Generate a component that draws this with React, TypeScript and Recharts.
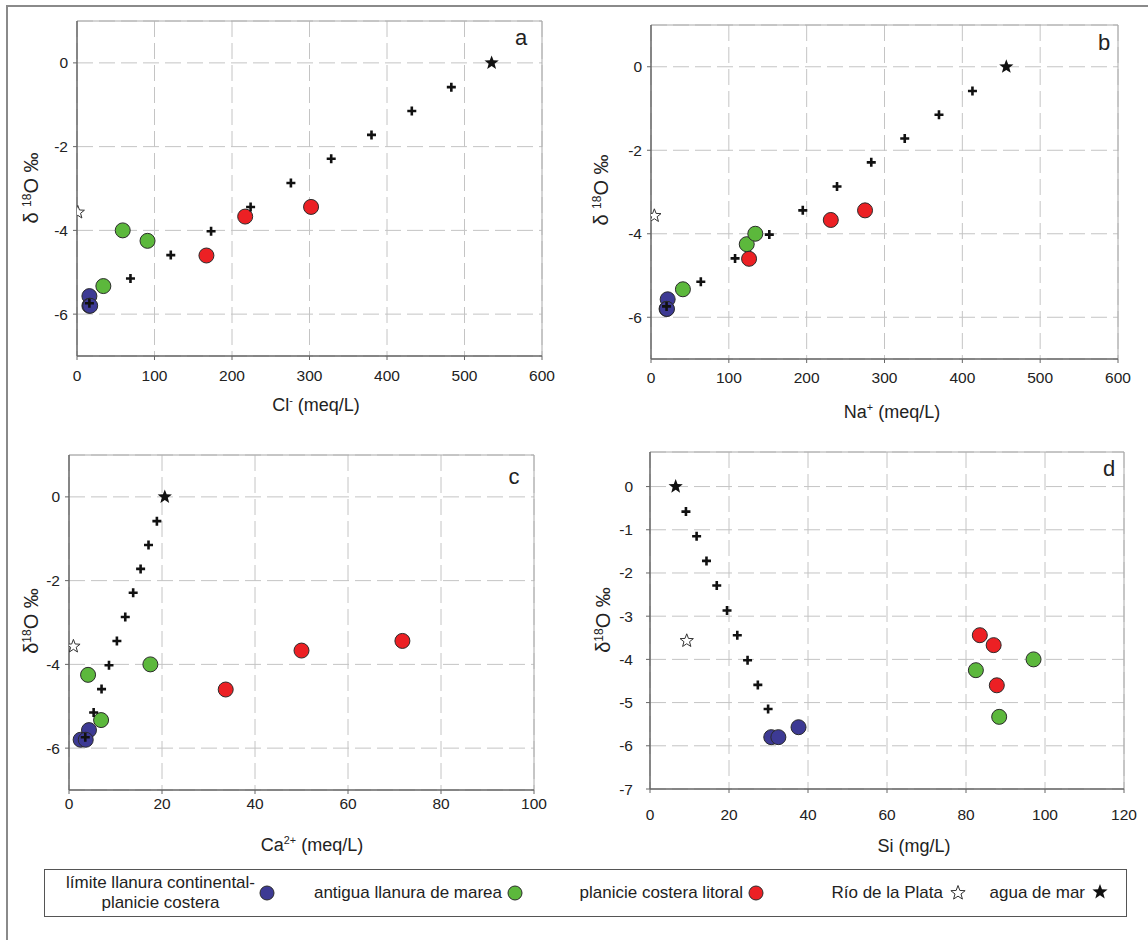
import React from "react";
import {
  ScatterChart,
  Scatter,
  XAxis,
  YAxis,
  CartesianGrid,
  ReferenceLine,
} from "recharts";

// δ18O (‰) and chemistry of each sample group
// límite llanura continental - planicie costera (blue)
const limiteO18 = [-5.57, -5.8, -5.8];
const limiteCl = [16, 16, 17];
const limiteNa = [21.4, 20, 20.5];
const limiteCa = [4.3, 2.5, 3.6];
const limiteSi = [37.6, 30.7, 32.5];

// antigua llanura de marea (green)
const mareaO18 = [-5.33, -4.25, -4.0];
const mareaCl = [34, 91, 59];
const mareaNa = [41, 123, 134];
const mareaCa = [6.9, 4.1, 17.5];
const mareaSi = [88.4, 82.5, 97.1];

// planicie costera litoral (red)
const litoralO18 = [-4.6, -3.67, -3.44];
const litoralCl = [167, 217, 302];
const litoralNa = [126, 231, 275];
const litoralCa = [33.7, 50, 71.7];
const litoralSi = [87.8, 87, 83.5];

// mixing line (crosses); first Si point is hidden under the blue dots
const mezclaO18 = [-5.74, -5.15, -4.59, -4.02, -3.44, -2.87, -2.29, -1.72, -1.15, -0.58];
const mezclaCl = [16, 69, 121, 173, 224, 276, 328, 380, 432, 483];
const mezclaNa = [20, 64, 108, 152, 195, 239, 283, 326, 370, 413];
const mezclaCa = [3.5, 5.3, 7.0, 8.6, 10.3, 12.1, 13.8, 15.4, 17.1, 18.9];
const mezclaSi = [null, 29.9, 27.3, 24.7, 22.1, 19.5, 16.9, 14.3, 11.8, 9.1];

// end members: Cl, Na, Ca, Si
const plataO18 = -3.57;
const plataX = [1, 4.3, 0.95, 9.3];
const marO18 = 0;
const marX = [535, 456.5, 20.6, 6.5];

const ticks600 = [0, 100, 200, 300, 400, 500, 600];
const ticks100 = [0, 20, 40, 60, 80, 100];
const ticks120 = [0, 20, 40, 60, 80, 100, 120];
const ticksO18 = [-6, -4, -2, 0];
const ticksO18d = [-7, -6, -5, -4, -3, -2, -1, 0];

const FONT = "'Liberation Sans', Arial, Helvetica, sans-serif";
const AZUL = "#3d3a94";
const VERDE = "#5cb83c";
const ROJO = "#ec2024";

const starPath = (cx: number, cy: number, R: number) => {
  const r = R * 0.42;
  let d = "";
  for (let i = 0; i < 10; i++) {
    const rad = i % 2 === 0 ? R : r;
    const a = -Math.PI / 2 + (i * Math.PI) / 5;
    d += (i === 0 ? "M" : "L") + (cx + rad * Math.cos(a)).toFixed(2) + "," + (cy + rad * Math.sin(a)).toFixed(2);
  }
  return d + "Z";
};

const circulo = (fill: string) => (props: any) => (
  <circle cx={props.cx} cy={props.cy} r={7.5} fill={fill} stroke="#2b2b2b" strokeWidth={1} />
);
const cruz = (props: any) => (
  <path
    d={`M${props.cx - 4.5},${props.cy}H${props.cx + 4.5}M${props.cx},${props.cy - 4.5}V${props.cy + 4.5}`}
    stroke="#111"
    strokeWidth={2.6}
  />
);
const estrellaNegra = (props: any) => <path d={starPath(props.cx, props.cy, 7.5)} fill="#111" />;
const estrellaBlanca = (props: any) => (
  <path d={starPath(props.cx, props.cy, 7)} fill="#fff" stroke="#333" strokeWidth={1} />
);

const pts = (xs: (number | null)[], ys: number[]) =>
  xs.map((x, i) => ({ x, y: ys[i] })).filter((d) => d.x !== null);

interface PanelProps {
  left: number;
  right: number;
  top: number;
  bottom: number;
  idx: number;
  xDomain: [number, number];
  xTicks: number[];
  yDomain: [number, number];
  yTicks: number[];
  xTickMargin: number;
  yTickMargin: number;
  limite: number[];
  marea: number[];
  litoral: number[];
  mezcla: (number | null)[];
}

function Panel(p: PanelProps) {
  const padL = 80;
  const padT = 10;
  const padR = 14;
  const padB = 60;
  const w = p.right - p.left;
  const h = p.bottom - p.top;
  const tick = { fontSize: 15.5, fill: "#222", fontFamily: FONT };
  return (
    <div style={{ position: "absolute", left: p.left - padL, top: p.top - padT }}>
      <ScatterChart
        width={w + padL + padR}
        height={h + padT + padB}
        margin={{ top: padT, right: padR, left: 0, bottom: 0 }}
      >
        <CartesianGrid strokeDasharray="16 6" stroke="#c4c4c4" />
        <XAxis
          type="number"
          dataKey="x"
          domain={p.xDomain}
          ticks={p.xTicks}
          interval={0}
          allowDataOverflow
          height={padB}
          tickSize={4}
          tickMargin={p.xTickMargin}
          tick={tick}
          axisLine={{ stroke: "#666", strokeWidth: 1.5 }}
          tickLine={{ stroke: "#666" }}
        />
        <YAxis
          type="number"
          dataKey="y"
          domain={p.yDomain}
          ticks={p.yTicks}
          interval={0}
          allowDataOverflow
          width={padL}
          tickSize={4}
          tickMargin={p.yTickMargin}
          tick={tick}
          axisLine={{ stroke: "#666", strokeWidth: 1.5 }}
          tickLine={{ stroke: "#666" }}
        />
        <ReferenceLine y={p.yDomain[1]} stroke="#aaa" strokeWidth={1} />
        <ReferenceLine x={p.xDomain[1]} stroke="#aaa" strokeWidth={1} />
        <Scatter data={pts(p.limite, limiteO18)} shape={circulo(AZUL)} isAnimationActive={false} />
        <Scatter data={pts(p.marea, mareaO18)} shape={circulo(VERDE)} isAnimationActive={false} />
        <Scatter data={pts(p.litoral, litoralO18)} shape={circulo(ROJO)} isAnimationActive={false} />
        <Scatter data={pts(p.mezcla, mezclaO18)} shape={cruz} isAnimationActive={false} />
        <Scatter data={[{ x: plataX[p.idx], y: plataO18 }]} shape={estrellaBlanca} isAnimationActive={false} />
        <Scatter data={[{ x: marX[p.idx], y: marO18 }]} shape={estrellaNegra} isAnimationActive={false} />
      </ScatterChart>
    </div>
  );
}

const txt = (x: number, y: number, content: React.ReactNode, size = 18, rotate = false) => (
  <div
    style={{
      position: "absolute",
      left: x,
      top: y,
      transform: `translate(-50%, -50%)${rotate ? " rotate(-90deg)" : ""}`,
      whiteSpace: "nowrap",
      fontFamily: FONT,
      fontSize: size,
      color: "#222",
      lineHeight: 1,
    }}
  >
    {content}
  </div>
);

const sup = (s: string) => <sup style={{ fontSize: "0.6em", verticalAlign: "0.6em" }}>{s}</sup>;

const LegendMark = ({ x, y, kind }: { x: number; y: number; kind: string }) => (
  <svg style={{ position: "absolute", left: x - 10, top: y - 10 }} width={20} height={20}>
    {kind === "estrella" ? (
      <path d={starPath(10, 10, 8)} fill="#111" />
    ) : kind === "estrellaBlanca" ? (
      <path d={starPath(10, 10, 7.5)} fill="#fff" stroke="#333" strokeWidth={1} />
    ) : (
      <circle cx={10} cy={10} r={7} fill={kind} stroke="#2b2b2b" strokeWidth={1} />
    )}
  </svg>
);

const legText = (right: number, content: React.ReactNode) => (
  <div
    style={{
      position: "absolute",
      right: 1148 - right,
      top: 893,
      transform: "translateY(-50%)",
      whiteSpace: "nowrap",
      fontFamily: FONT,
      fontSize: 17,
      color: "#222",
      lineHeight: 1.15,
      textAlign: "center",
    }}
  >
    {content}
  </div>
);

export default function App() {
  return (
    <div
      style={{
        position: "absolute",
        left: 0,
        top: 0,
        width: 1148,
        height: 940,
        overflow: "hidden",
        background: "#fff",
      }}
    >
      <div
        style={{
          position: "absolute",
          left: 6,
          top: 5,
          width: 1180,
          height: 980,
          border: "2px solid #8a8a8a",
        }}
      />
      <Panel
        left={77} right={542} top={21} bottom={356} idx={0}
        xDomain={[0, 600]} xTicks={ticks600} yDomain={[-7, 1]} yTicks={ticksO18}
        xTickMargin={10} yTickMargin={5}
        limite={limiteCl} marea={mareaCl} litoral={litoralCl} mezcla={mezclaCl}
      />
      <Panel
        left={651} right={1118} top={25} bottom={359} idx={1}
        xDomain={[0, 600]} xTicks={ticks600} yDomain={[-7, 1]} yTicks={ticksO18}
        xTickMargin={9} yTickMargin={5}
        limite={limiteNa} marea={mareaNa} litoral={litoralNa} mezcla={mezclaNa}
      />
      <Panel
        left={69} right={534} top={455} bottom={790} idx={2}
        xDomain={[0, 100]} xTicks={ticks100} yDomain={[-7, 1]} yTicks={ticksO18}
        xTickMargin={4} yTickMargin={5}
        limite={limiteCa} marea={mareaCa} litoral={litoralCa} mezcla={mezclaCa}
      />
      <Panel
        left={650} right={1124} top={452} bottom={789} idx={3}
        xDomain={[0, 120]} xTicks={ticks120} yDomain={[-7, 0.8]} yTicks={ticksO18d}
        xTickMargin={16} yTickMargin={13}
        limite={limiteSi} marea={mareaSi} litoral={litoralSi} mezcla={mezclaSi}
      />

      {txt(521, 38, "a", 22)}
      {txt(1104, 43, "b", 22)}
      {txt(514, 477, "c", 22)}
      {txt(1109, 469, "d", 22)}

      {txt(31, 188, <span>δ {sup("18")}O ‰</span>, 20, true)}
      {txt(601, 190, <span>δ {sup("18")}O ‰</span>, 20, true)}
      {txt(31, 621, <span>δ{sup("18")}O ‰</span>, 20, true)}
      {txt(603, 620, <span>δ{sup("18")}O ‰</span>, 20, true)}

      {txt(316, 405, <span>Cl{sup("-")} (meq/L)</span>)}
      {txt(892, 412, <span>Na{sup("+")} (meq/L)</span>)}
      {txt(312, 845, <span>Ca{sup("2+")} (meq/L)</span>)}
      {txt(914, 846, "Si (mg/L)")}

      <div
        style={{
          position: "absolute",
          left: 44,
          top: 869,
          width: 1083,
          height: 48,
          boxSizing: "border-box",
          border: "1.5px solid #555",
        }}
      />
      {legText(255, <span>límite llanura continental-<br />planicie costera</span>)}
      <LegendMark x={267} y={893} kind={AZUL} />
      {legText(502, "antigua llanura de marea")}
      <LegendMark x={515} y={893} kind={VERDE} />
      {legText(743, "planicie costera litoral")}
      <LegendMark x={756} y={893} kind={ROJO} />
      {legText(943, "Río de la Plata")}
      <LegendMark x={958} y={893} kind="estrellaBlanca" />
      {legText(1085, "agua de mar")}
      <LegendMark x={1100} y={892} kind="estrella" />
    </div>
  );
}
